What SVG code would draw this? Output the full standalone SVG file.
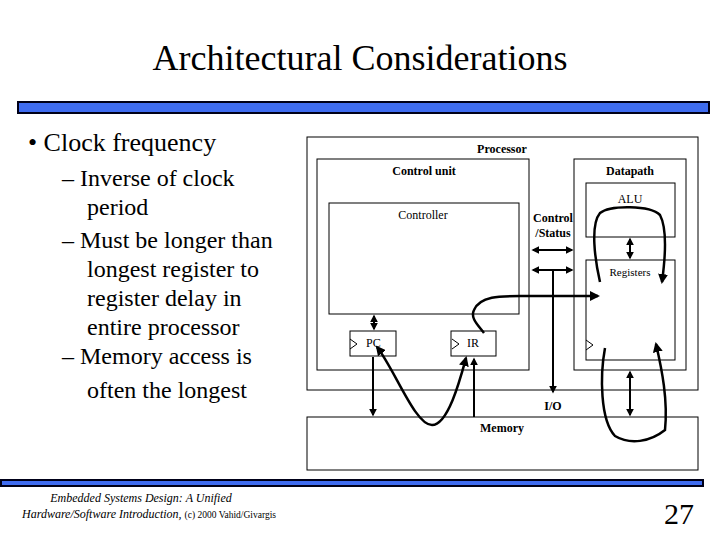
<svg xmlns="http://www.w3.org/2000/svg" width="720" height="540" viewBox="0 0 720 540">
<style>
text{font-family:"Liberation Serif","Times New Roman",serif;fill:#000}
.b{fill:none;stroke:#000;stroke-width:1}
.w{stroke:#000;stroke-width:2.5;fill:none}
.bar{fill:#3f6cf0;stroke:#000018;stroke-width:2}
</style>
<defs>
<marker id="a" viewBox="0 0 10 10" refX="8" refY="5" markerWidth="4" markerHeight="4" orient="auto-start-reverse"><path d="M0,0L10,5L0,10z" fill="#000"/></marker>
</defs>
<rect width="720" height="540" fill="#fff"/>
<text x="360" y="70" font-size="36" text-anchor="middle">Architectural Considerations</text>
<rect class="bar" x="18" y="102" width="691" height="11"/>
<rect class="bar" x="1" y="480" width="702" height="6"/>
<g>
<text x="28" y="151" font-size="26">• Clock frequency</text>
<g font-size="24">
<text x="62" y="186">– Inverse of clock</text>
<text x="87" y="215">period</text>
<text x="62" y="248">– Must be longer than</text>
<text x="87" y="277">longest register to</text>
<text x="87" y="306">register delay in</text>
<text x="87" y="335">entire processor</text>
<text x="62" y="364">– Memory access is</text>
<text x="87" y="398">often the longest</text>
</g>
</g>
<g id="processor"><rect class="b" x="307" y="137" width="391" height="253"/><text x="502" y="153" font-size="12" font-weight="bold" text-anchor="middle">Processor</text></g>
<g id="controlunit"><rect class="b" x="317" y="159" width="212" height="211"/><text x="424" y="175" font-size="12" font-weight="bold" text-anchor="middle">Control unit</text></g>
<g id="controller"><rect class="b" x="329" y="203" width="190" height="111"/><text x="423" y="219" font-size="12" text-anchor="middle">Controller</text></g>
<g id="pc"><rect class="b" x="350" y="331" width="46" height="25"/><text x="366" y="347" font-size="12">PC</text><path class="b" d="M350,339L357,344L350,349"/></g>
<g id="ir"><rect class="b" x="451" y="331" width="45" height="25"/><text x="467" y="347" font-size="12">IR</text><path class="b" d="M452,339L459,344L452,349"/></g>
<g id="datapath"><rect class="b" x="574" y="159" width="112" height="211"/><text x="630" y="175" font-size="12" font-weight="bold" text-anchor="middle">Datapath</text></g>
<g id="alu"><rect class="b" x="586" y="183" width="89" height="54"/><text x="630" y="203" font-size="12" text-anchor="middle">ALU</text></g>
<g id="registers"><rect class="b" x="586" y="260" width="89" height="100"/><text x="630" y="276" font-size="11" text-anchor="middle">Registers</text><path class="b" d="M586,340L593,345L586,350"/></g>
<g id="memory"><rect class="b" x="307" y="417" width="391" height="53"/><text x="502" y="432" font-size="12" font-weight="bold" text-anchor="middle">Memory</text></g>
<g id="labels" font-size="12" font-weight="bold" text-anchor="middle">
<text x="553" y="222">Control</text><text x="553" y="237">/Status</text><text x="553" y="410">I/O</text>
</g>
<g id="connectors" class="w">
<path d="M533,250H572" marker-start="url(#a)" marker-end="url(#a)" stroke-width="2"/>
<path d="M533,270H572" marker-start="url(#a)" marker-end="url(#a)" stroke-width="2"/>
<path d="M553,270V392" marker-end="url(#a)" stroke-width="2"/>
<path d="M374,316V329" marker-start="url(#a)" marker-end="url(#a)" stroke-width="2"/>
<path d="M373,357V415" marker-end="url(#a)" stroke-width="2"/>
<path d="M474,417V359" marker-end="url(#a)" stroke-width="2"/>
<path d="M630,239V258" marker-start="url(#a)" marker-end="url(#a)" stroke-width="2"/>
<path d="M630,372V415" marker-start="url(#a)" marker-end="url(#a)" stroke-width="2"/>
<path d="M377,347C395,370 415,425 432,425C448,425 460,380 466,358" marker-start="url(#a)" marker-end="url(#a)"/>
<path d="M484,333C478,325 470,318 474,310C480,296 500,296 520,296H598" marker-end="url(#a)"/>
<path d="M600,282C595,260 590,225 600,213C610,205 650,205 660,215C668,230 665,260 662,282" marker-end="url(#a)"/>
<path d="M605,348C600,375 600,420 615,436C630,445 650,442 665,430C668,400 662,370 656,344" marker-end="url(#a)"/>
</g>
<g font-style="italic" font-size="12" text-anchor="middle">
<text x="141" y="502">Embedded Systems Design: A Unified</text>
<text x="22" y="518" text-anchor="start">Hardware/Software Introduction, <tspan font-style="normal" font-size="9.5">(c) 2000 Vahid/Givargis</tspan></text>
</g>
<text x="694" y="524" font-size="30" text-anchor="end">27</text>
</svg>
